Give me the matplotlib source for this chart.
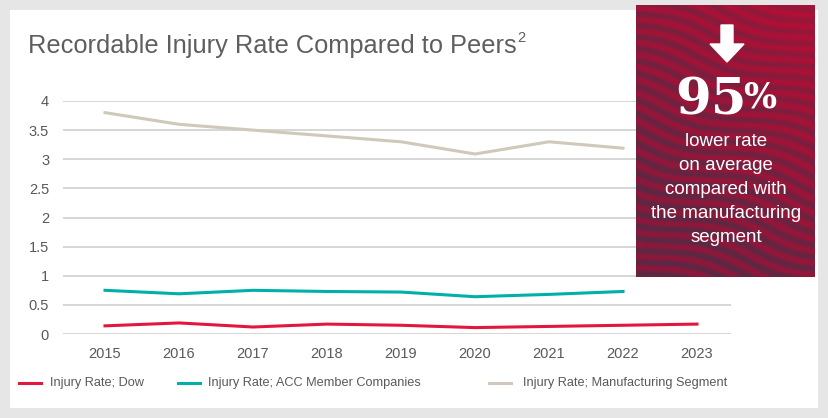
import numpy as np
import matplotlib.pyplot as plt
from matplotlib.patches import Rectangle, FancyArrow

years = [2015, 2016, 2017, 2018, 2019, 2020, 2021, 2022, 2023]
dow = [0.14, 0.19, 0.12, 0.17, 0.15, 0.11, 0.13, 0.15, 0.17]
acc = [0.75, 0.69, 0.75, 0.73, 0.72, 0.64, 0.68, 0.73]
manuf = [3.8, 3.6, 3.5, 3.4, 3.3, 3.09, 3.3, 3.19]
yticks = [0, 0.5, 1, 1.5, 2, 2.5, 3, 3.5, 4]
ytick_labels = ["0", "0.5", "1", "1.5", "2", "2.5", "3", "3.5", "4"]

W, H = 829, 418
plt.rcParams['font.family'] = ['Liberation Sans', 'DejaVu Sans']
fig = plt.figure(figsize=(W / 100, H / 100), dpi=100, facecolor='#e6e6e6')

def fx(px):
    return px / W

def fy(py):
    return 1 - py / H

# white panel
fig.patches.append(Rectangle((fx(10), fy(408)), fx(808), 398 / H,
                             transform=fig.transFigure, facecolor='white',
                             edgecolor='none', zorder=-5))

# main axes: y 0 -> px 334, 4 -> px 101 ; x 2015 -> 105, 2023 -> 697
ax = fig.add_axes([fx(63), fy(334), fx(731 - 63), (334 - 101) / H])
ax.set_xlim(2015 - 42 / 74, 2023 + 34 / 74)
ax.set_ylim(0, 4)
ax.set_facecolor('none')
for s in ax.spines.values():
    s.set_visible(False)
ax.set_yticks(yticks)
ax.set_yticklabels(ytick_labels)
ax.set_xticks(years)
ax.set_xticklabels([str(y) for y in years])
ax.grid(axis='y', color='#d0d0d0', linewidth=1.2)
ax.set_axisbelow(True)
ax.tick_params(length=0, labelsize=10.5, labelcolor='#595959')
ax.tick_params(axis='y', pad=10)
ax.tick_params(axis='x', pad=9)

ax.plot(years[:len(manuf)], manuf, color='#cfc9bb', lw=2.2)
ax.plot(years[:len(acc)], acc, color='#00b0a8', lw=2.2)
ax.plot(years, dow, color='#e3173e', lw=2.2)

fig.text(fx(28), fy(46), "Recordable Injury Rate Compared to Peers",
         fontsize=18.3, color='#5e5e5e', va='center', ha='left')
fig.text(fx(517), fy(38), "2", fontsize=10.5, color='#5e5e5e', va='center', ha='left')

# legend
leg = [("Injury Rate; Dow", '#e3173e', 19, 50),
       ("Injury Rate; ACC Member Companies", '#00b0a8', 178, 208),
       ("Injury Rate; Manufacturing Segment", '#cfc9bb', 489, 523)]
for label, col, lx, tx in leg:
    fig.lines.append(plt.Line2D([fx(lx), fx(lx + 22)], [fy(383), fy(383)],
                                transform=fig.transFigure, color=col, lw=2.2))
    fig.text(fx(tx), fy(383), label, fontsize=9.2, color='#595959',
             va='center', ha='left')

# red call-out box with wavy texture
bx = fig.add_axes([fx(636), fy(277), fx(815 - 636), (277 - 5) / H])
xx, yy = np.meshgrid(np.linspace(0, 1, 180), np.linspace(0, 1.51, 272))
wave = np.sin(88 * (yy - 0.25 * xx) + 3 * np.sin(6 * xx + 4 * yy))
base = np.array([0.56, 0.09, 0.23])
top = np.array([0.70, 0.06, 0.21])
dark = np.array([0.32, 0.17, 0.27])
g = np.clip(xx * 0.5 + (1 - yy) * 0.6, 0, 1)[..., None]
col = base * (1 - g) + top * g
mix = ((0.85 - 0.55 * g[..., 0]) * (1 - wave) / 2)[..., None]
img = col * (1 - mix) + dark * mix
bx.imshow(img, aspect='auto', extent=[0, 1, 0, 1], origin='upper')
bx.set_xlim(0, 1)
bx.set_ylim(0, 1)
bx.axis('off')

fig.patches.append(FancyArrow(fx(727), fy(25), 0, -(44 - 25) / H,
                              width=fx(12), head_width=fx(34), head_length=(62 - 44) / H,
                              length_includes_head=False, transform=fig.transFigure,
                              color='white', zorder=5))
fig.text(fx(711), fy(101), "95", fontsize=37, fontweight='bold', color='white',
         family=['DejaVu Serif'], ha='center', va='center', zorder=6)
fig.text(fx(760), fy(98), "%", fontsize=25, fontweight='bold', color='white',
         family=['DejaVu Serif'], ha='center', va='center', zorder=6)
for i, line in enumerate(["lower rate", "on average", "compared with",
                          "the manufacturing", "segment"]):
    fig.text(fx(726), fy(141 + i * 24.2), line, fontsize=13.5, color='white',
             ha='center', va='center', zorder=6)

fig.savefig('out.png', dpi=100, facecolor=fig.get_facecolor())
